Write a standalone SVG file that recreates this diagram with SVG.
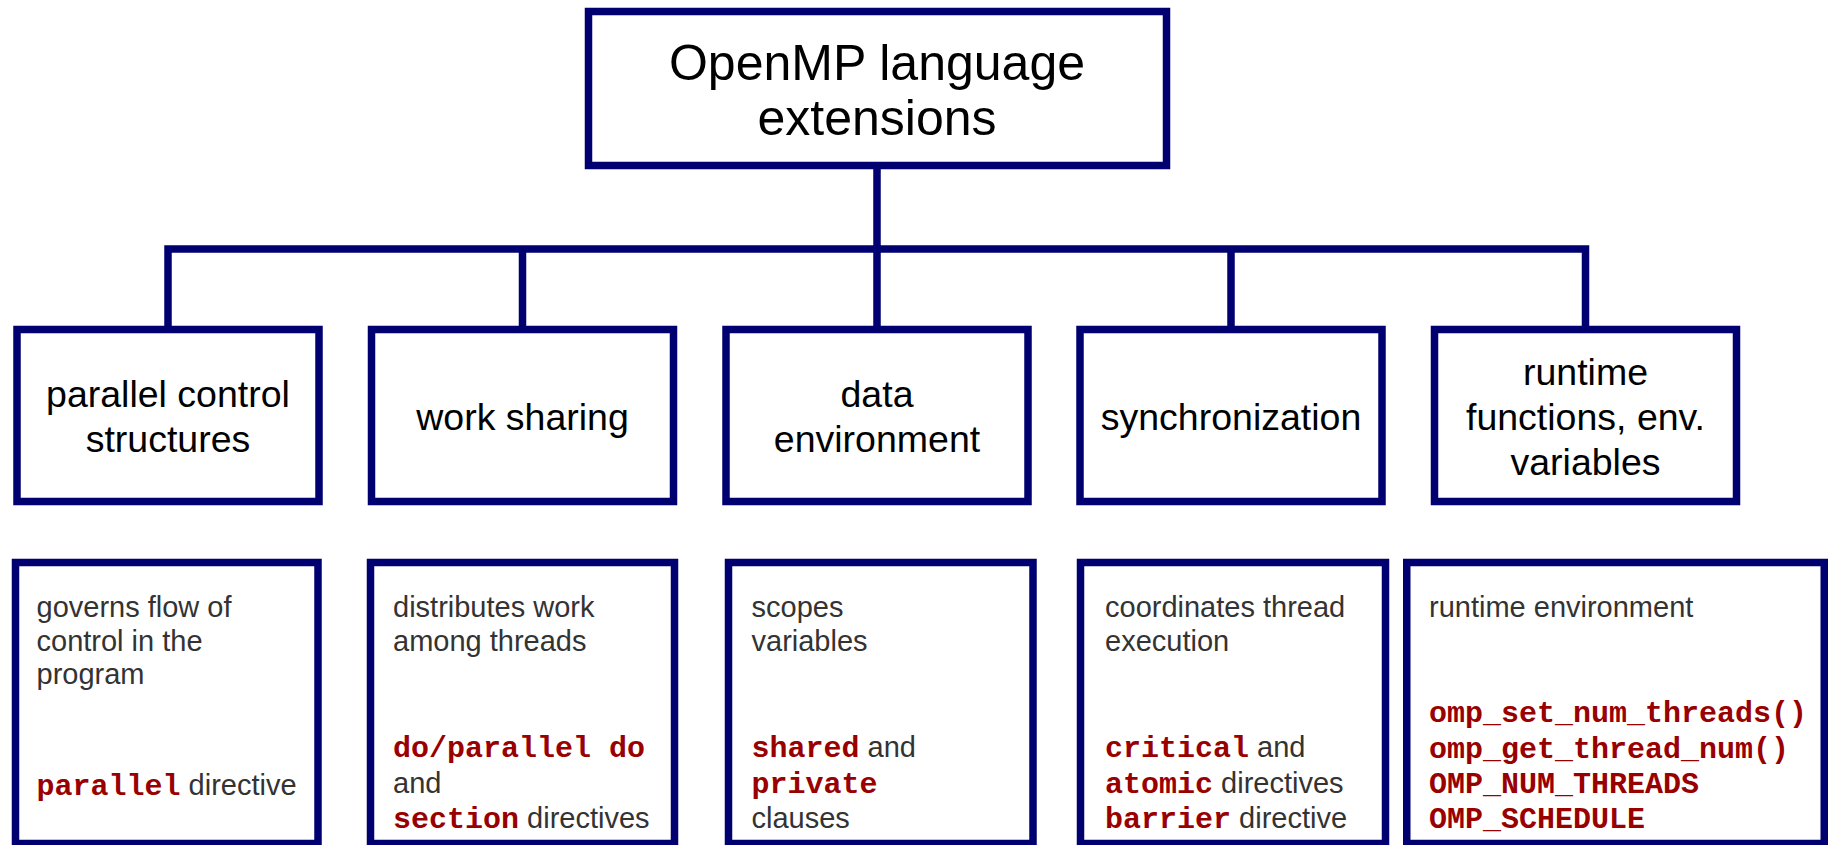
<svg xmlns="http://www.w3.org/2000/svg" width="1835" height="845" viewBox="0 0 1835 845">
<style>
.box{fill:#ffffff;stroke:#000070;stroke-width:7.5}
.conn{fill:none;stroke:#000070;stroke-width:7.5;stroke-linejoin:miter}
.title{font-family:"Liberation Sans",Arial,sans-serif;font-size:50px;fill:#000000;text-anchor:middle}
.cat{font-family:"Liberation Sans",Arial,sans-serif;font-size:37.5px;fill:#000000;text-anchor:middle}
.desc{font-family:"Liberation Sans",Arial,sans-serif;font-size:29px;fill:#333333}
.code{font-family:"Liberation Mono","Courier New",monospace;font-weight:bold;font-size:30px;fill:#990000}
</style>
<rect width="1835" height="845" fill="#ffffff"/>
<g id="connectors">
<path class="conn" d="M877,169 V249 M168,330 V249 H1585.5 V330 M522.5,249 V330 M877,249 V330 M1231,249 V330"/>
</g>
<g id="root">
<rect class="box" x="588.5" y="11.5" width="578" height="154"/>
<text class="title" x="877" y="80">OpenMP language</text>
<text class="title" x="877" y="135">extensions</text>
</g>
<g id="cat-parallel">
<rect class="box" x="17" y="329.5" width="302" height="172"/>
<text class="cat" x="168" y="407">parallel control</text>
<text class="cat" x="168" y="451.5">structures</text>
</g>
<g id="cat-worksharing">
<rect class="box" x="371.5" y="329.5" width="302" height="172"/>
<text class="cat" x="522.5" y="430">work sharing</text>
</g>
<g id="cat-data">
<rect class="box" x="726" y="329.5" width="302" height="172"/>
<text class="cat" x="877" y="407">data</text>
<text class="cat" x="877" y="451.5">environment</text>
</g>
<g id="cat-sync">
<rect class="box" x="1080" y="329.5" width="302" height="172"/>
<text class="cat" x="1231" y="430">synchronization</text>
</g>
<g id="cat-runtime">
<rect class="box" x="1434.5" y="329.5" width="302" height="172"/>
<text class="cat" x="1585.5" y="385">runtime</text>
<text class="cat" x="1585.5" y="430">functions, env.</text>
<text class="cat" x="1585.5" y="475">variables</text>
</g>
<g id="desc-parallel">
<rect class="box" x="15.5" y="562.5" width="302.5" height="281"/>
<text class="desc" x="36.5" y="617">governs flow of</text>
<text class="desc" x="36.5" y="650.5">control in the</text>
<text class="desc" x="36.5" y="684">program</text>
<text x="36.5" y="795"><tspan class="code">parallel</tspan><tspan class="desc"> directive</tspan></text>
</g>
<g id="desc-worksharing">
<rect class="box" x="370.5" y="562.5" width="304" height="281"/>
<text class="desc" x="393" y="617">distributes work</text>
<text class="desc" x="393" y="650.5">among threads</text>
<text class="code" x="393" y="757">do/parallel do</text>
<text class="desc" x="393" y="792.5">and</text>
<text x="393" y="828"><tspan class="code">section</tspan><tspan class="desc"> directives</tspan></text>
</g>
<g id="desc-data">
<rect class="box" x="728.5" y="562.5" width="304.5" height="281"/>
<text class="desc" x="751.5" y="617">scopes</text>
<text class="desc" x="751.5" y="650.5">variables</text>
<text x="751.5" y="757"><tspan class="code">shared</tspan><tspan class="desc"> and</tspan></text>
<text class="code" x="751.5" y="792.5">private</text>
<text class="desc" x="751.5" y="828">clauses</text>
</g>
<g id="desc-sync">
<rect class="box" x="1080.5" y="562.5" width="305" height="281"/>
<text class="desc" x="1105" y="617">coordinates thread</text>
<text class="desc" x="1105" y="650.5">execution</text>
<text x="1105" y="757"><tspan class="code">critical</tspan><tspan class="desc"> and</tspan></text>
<text x="1105" y="792.5"><tspan class="code">atomic</tspan><tspan class="desc"> directives</tspan></text>
<text x="1105" y="828"><tspan class="code">barrier</tspan><tspan class="desc"> directive</tspan></text>
</g>
<g id="desc-runtime">
<rect class="box" x="1406.75" y="562.5" width="417.5" height="281"/>
<text class="desc" x="1429" y="617">runtime environment</text>
<text class="code" x="1429" y="722">omp_set_num_threads()</text>
<text class="code" x="1429" y="757.5">omp_get_thread_num()</text>
<text class="code" x="1429" y="793">OMP_NUM_THREADS</text>
<text class="code" x="1429" y="828">OMP_SCHEDULE</text>
</g>
</svg>
